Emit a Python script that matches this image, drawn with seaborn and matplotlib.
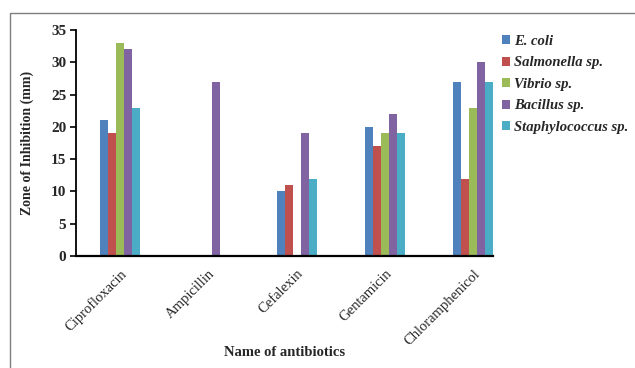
import pandas as pd
import seaborn as sns
import matplotlib.pyplot as plt
from matplotlib.patches import Rectangle

# Zone of inhibition (mm) for each antibiotic against each organism
antibiotics = ["Ciprofloxacin", "Ampicillin", "Cefalexin", "Gentamicin", "Chloramphenicol"]
organisms = ["E. coli", "Salmonella sp.", "Vibrio sp.", "Bacillus sp.", "Staphylococcus sp."]
e_coli = [21, 0, 10, 20, 27]
salmonella = [19, 0, 11, 17, 12]
vibrio = [33, 0, 0, 19, 23]
bacillus = [32, 27, 19, 22, 30]
staphylococcus = [23, 0, 12, 19, 27]
y_ticks = [0, 5, 10, 15, 20, 25, 30, 35]

colors = ["#4F81BD", "#C0504D", "#9BBB59", "#8064A2", "#4BACC6"]

series = [e_coli, salmonella, vibrio, bacillus, staphylococcus]
df = pd.DataFrame(
    [(a, org, v) for org, vals in zip(organisms, series) for a, v in zip(antibiotics, vals)],
    columns=["antibiotic", "organism", "zone"],
)

sns.set_style("white")
plt.rcParams["font.family"] = ["Liberation Serif", "DejaVu Serif"]

fig = plt.figure(figsize=(6.35, 3.68), dpi=100)
ax = fig.add_axes([0.1197, 0.3043, 0.6562, 0.6141])

sns.barplot(
    data=df, x="antibiotic", y="zone", hue="organism",
    order=antibiotics, hue_order=organisms, palette=colors,
    width=0.45, gap=0, linewidth=0, saturation=1, errorbar=None, ax=ax,
)

ax.set_ylim(0, 35)
ax.set_xlim(-0.5, 4.22)
ax.set_yticks(y_ticks)
ax.set_yticklabels([str(t) for t in y_ticks], fontsize=11, fontweight="bold")

for side in ["top", "right"]:
    ax.spines[side].set_visible(False)
for side in ["left", "bottom"]:
    ax.spines[side].set_color("black")
ax.spines["left"].set_linewidth(1.3)
ax.spines["bottom"].set_linewidth(1.6)

ax.tick_params(axis="y", direction="out", length=4, width=1.2, color="black", pad=3, left=True)
ax.tick_params(axis="x", length=0, pad=8)
for lbl in ax.get_xticklabels():
    lbl.set_rotation(45)
    lbl.set_ha("right")
    lbl.set_va("top")
    lbl.set_rotation_mode("anchor")
    lbl.set_fontsize(10.5)

ax.set_xlabel("Name of antibiotics", fontsize=10.5, fontweight="bold")
ax.xaxis.set_label_coords(0.5, -0.425)
ax.xaxis.label.set_va("center")
ax.set_ylabel("Zone of Inhibition (mm)", fontsize=10, fontweight="bold")
ax.yaxis.set_label_coords(-0.118, 0.5)
ax.yaxis.label.set_va("center")

handles, labels = ax.get_legend_handles_labels()
leg = ax.legend(
    handles, labels, loc="upper left", bbox_to_anchor=(502 / 635, 1 - 35 / 368),
    bbox_transform=fig.transFigure, frameon=False,
    prop={"family": "Liberation Serif", "weight": "bold", "style": "italic", "size": 10.5},
    handlelength=0.55, handleheight=0.55, handletextpad=0.3, labelspacing=0.58,
    borderaxespad=0, borderpad=0,
)

# outer frame of the figure panel
fig.add_artist(Rectangle((10 / 635, -0.1), 1.0, 1.1 - 13 / 368,
                         transform=fig.transFigure, fill=False,
                         edgecolor="#7f7f7f", linewidth=1.0))

fig.savefig("out.png", dpi=100)
